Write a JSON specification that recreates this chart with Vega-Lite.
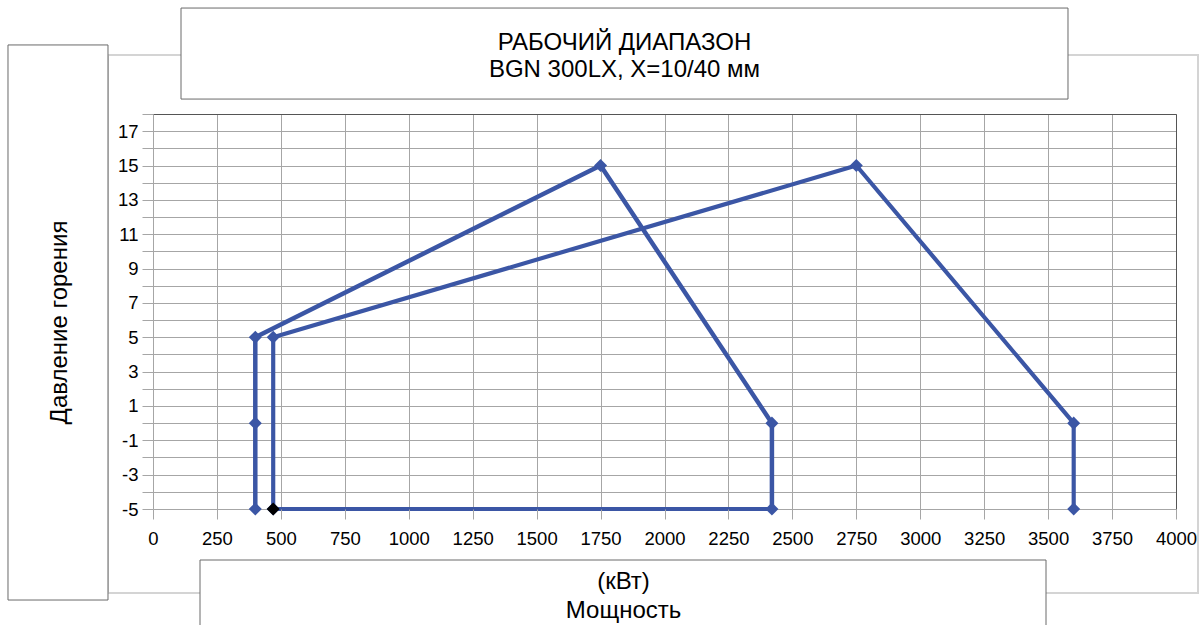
{
  "$schema": "https://vega.github.io/schema/vega-lite/v6.json",
  "width": 1023,
  "height": 395,
  "autosize": {"type": "none"},
  "padding": {"left": 153, "top": 114, "right": 24, "bottom": 116},
  "background": "white",
  "config": {
    "view": {"stroke": null},
    "font": "Liberation Sans"
  },
  "title": {
    "text": ["РАБОЧИЙ ДИАПАЗОН", "BGN 300LX, X=10/40 мм"],
    "anchor": "middle",
    "frame": "group",
    "dx": -40,
    "offset": -74,
    "fontSize": 24,
    "fontWeight": "normal",
    "color": "#000000",
    "font": "Liberation Sans",
    "lineHeight": 27,
    "zindex": 1
  },
  "resolve": {"axis": {"x": "independent", "y": "independent"}},
  "data": {
    "values": [
      {"series": "X=10", "kW": 400, "p": -5},
      {"series": "X=10", "kW": 400, "p": 0},
      {"series": "X=10", "kW": 400, "p": 5},
      {"series": "X=10", "kW": 1750, "p": 15},
      {"series": "X=10", "kW": 2420, "p": 0},
      {"series": "X=10", "kW": 2420, "p": -5},
      {"series": "X=40", "kW": 470, "p": -5},
      {"series": "X=40", "kW": 470, "p": 5},
      {"series": "X=40", "kW": 2750, "p": 15},
      {"series": "X=40", "kW": 3600, "p": 0},
      {"series": "X=40", "kW": 3600, "p": -5},
      {"series": "base", "kW": 470, "p": -5},
      {"series": "base", "kW": 2420, "p": -5},
      {"series": "start", "kW": 470, "p": -5}
    ]
  },
  "layer": [
    {
      "mark": {"type": "line", "strokeJoin": "round"},
      "encoding": {
        "x": {
          "field": "kW",
          "type": "quantitative",
          "scale": {"domain": [0, 4000], "nice": false, "zero": false},
          "axis": {
            "values": [0, 250, 500, 750, 1000, 1250, 1500, 1750, 2000, 2250, 2500, 2750, 3000, 3250, 3500, 3750, 4000],
            "labelExpr": "'' + datum.value",
            "grid": false,
            "domain": false,
            "tickColor": "#a6a6a6",
            "tickSize": 10,
            "labelFontSize": 18.5,
            "labelColor": "#000000",
            "labelFont": "Liberation Sans",
            "labelPadding": 10,
            "labelOverlap": false,
            "labelFlush": false,
            "labelBound": false,
            "title": ["(кВт)", "Мощность"],
            "titleFont": "Liberation Sans",
            "titleFontSize": 24,
            "titleFontWeight": "normal",
            "titleColor": "#000000",
            "titleX": 470,
            "titleY": 79,
            "titleAlign": "center",
            "titleBaseline": "alphabetic",
            "titleLineHeight": 29,
            "zindex": 1
          }
        },
        "y": {
          "field": "p",
          "type": "quantitative",
          "scale": {"domain": [-5, 18], "nice": false, "zero": false},
          "axis": {
            "values": [-5, -4, -3, -2, -1, 0, 1, 2, 3, 4, 5, 6, 7, 8, 9, 10, 11, 12, 13, 14, 15, 16, 17, 18],
            "labelExpr": "datum.value % 2 != 0 ? '' + datum.value : ''",
            "grid": false,
            "domain": false,
            "tickColor": "#a6a6a6",
            "tickSize": 11,
            "labelFontSize": 18.5,
            "labelColor": "#000000",
            "labelFont": "Liberation Sans",
            "labelPadding": 4,
            "labelOverlap": false,
            "labelBound": false,
            "title": "Давление горения",
            "titleFont": "Liberation Sans",
            "titleFontSize": 24,
            "titleFontWeight": "normal",
            "titleColor": "#000000",
            "titleAngle": 270,
            "titleX": -87,
            "titleY": 208,
            "titleAlign": "center",
            "titleBaseline": "alphabetic",
            "zindex": 1
          }
        },
        "color": {
          "field": "series",
          "type": "nominal",
          "scale": {"domain": ["X=10", "X=40", "base", "start"], "range": ["#3b56a5", "#3b56a5", "#3b56a5", "#000000"]},
          "legend": null
        },
        "strokeWidth": {
          "field": "series",
          "type": "ordinal",
          "scale": {"domain": ["X=10", "X=40", "base", "start"], "range": [4.5, 3.5, 5, 1]},
          "legend": null
        },
        "order": {"value": null}
      }
    },
    {
      "transform": [{"filter": {"field": "series", "oneOf": ["X=10", "X=40", "start"]}}],
      "mark": {"type": "point", "shape": "diamond", "filled": true, "size": 170, "opacity": 1},
      "encoding": {
        "x": {
          "field": "kW",
          "type": "quantitative",
          "axis": {
            "values": [0, 250, 500, 750, 1000, 1250, 1500, 1750, 2000, 2250, 2500, 2750, 3000, 3250, 3500, 3750, 4000],
            "grid": true,
            "gridColor": "#a6a6a6",
            "gridWidth": 1,
            "domain": true,
            "domainColor": "#555555",
            "ticks": false,
            "labels": false,
            "title": null,
            "zindex": 0
          }
        },
        "y": {
          "field": "p",
          "type": "quantitative",
          "axis": {
            "values": [-5, -4, -3, -2, -1, 0, 1, 2, 3, 4, 5, 6, 7, 8, 9, 10, 11, 12, 13, 14, 15, 16, 17, 18],
            "grid": true,
            "gridColor": "#a6a6a6",
            "gridWidth": 1,
            "domain": true,
            "domainColor": "#555555",
            "ticks": false,
            "labels": false,
            "title": null,
            "zindex": 0
          }
        },
        "color": {
          "field": "series",
          "type": "nominal",
          "scale": {"domain": ["X=10", "X=40", "base", "start"], "range": ["#3b56a5", "#3b56a5", "#3b56a5", "#000000"]},
          "legend": null
        }
      }
    },
    {
      "data": {"values": [{"box": "frame"}]},
      "mark": {"type": "rect", "fill": "white", "fillOpacity": 0, "stroke": "#d4d4d4", "strokeWidth": 2},
      "encoding": {
        "x": {"datum": -176, "type": "quantitative", "axis": null},
        "x2": {"datum": 4086},
        "y": {"datum": 21.44, "type": "quantitative", "axis": null},
        "y2": {"datum": -9.89}
      }
    },
    {
      "data": {"values": [{"box": "y title"}]},
      "mark": {"type": "rect", "fill": "white", "stroke": "#6a6a6a", "strokeWidth": 1},
      "encoding": {
        "x": {"datum": -567, "type": "quantitative", "axis": null},
        "x2": {"datum": -176},
        "y": {"datum": 22.02, "type": "quantitative", "axis": null},
        "y2": {"datum": -10.3}
      }
    },
    {
      "data": {"values": [{"box": "title"}]},
      "mark": {"type": "rect", "fill": "white", "stroke": "#6a6a6a", "strokeWidth": 1},
      "encoding": {
        "x": {"datum": 109.5, "type": "quantitative", "axis": null},
        "x2": {"datum": 3577.7},
        "y": {"datum": 24.17, "type": "quantitative", "axis": null},
        "y2": {"datum": 18.87}
      }
    },
    {
      "data": {"values": [{"box": "x title"}]},
      "mark": {"type": "rect", "fill": "white", "stroke": "#6a6a6a", "strokeWidth": 1},
      "encoding": {
        "x": {"datum": 183.8, "type": "quantitative", "axis": null},
        "x2": {"datum": 3491.7},
        "y": {"datum": -7.97, "type": "quantitative", "axis": null},
        "y2": {"datum": -12.63}
      }
    }
  ]
}
